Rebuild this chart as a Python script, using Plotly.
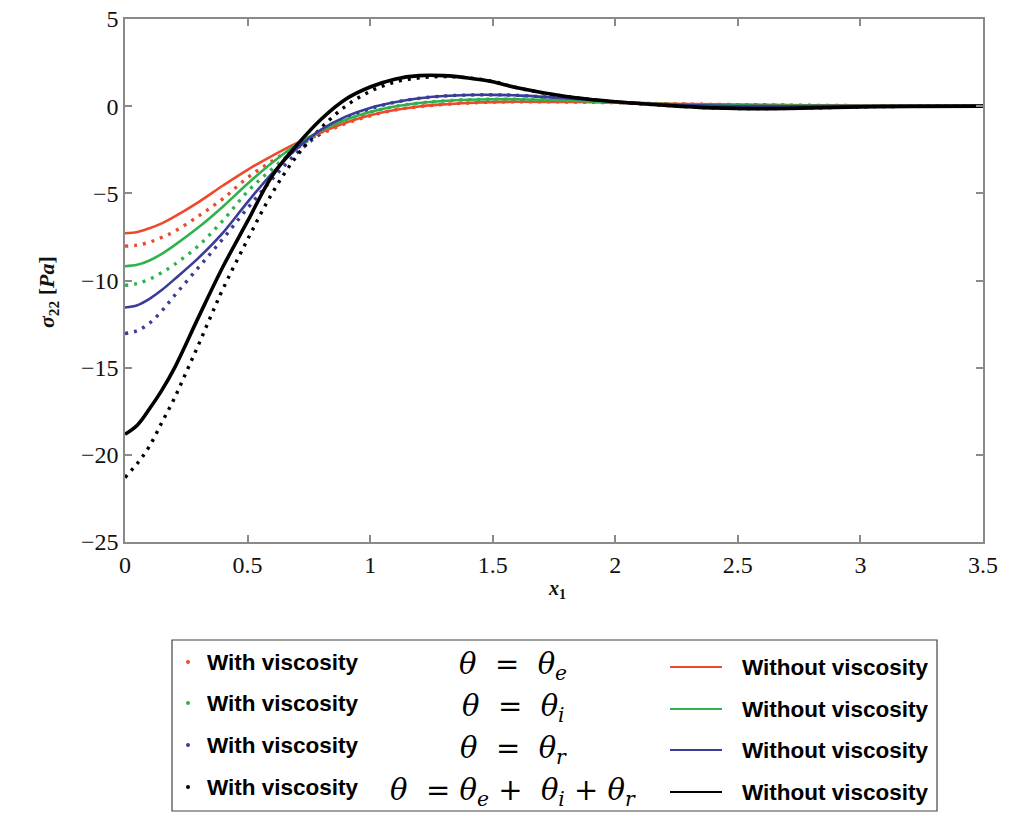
import plotly.graph_objects as go

# ---------------- data ----------------
x_solid = [0, 0.05, 0.1, 0.15, 0.2, 0.3, 0.4, 0.5, 0.6, 0.7, 0.8, 0.9, 1.0, 1.1, 1.2, 1.3, 1.4,
           1.5, 1.6, 1.8, 2.0, 2.2, 2.4, 2.6, 2.8, 3.0, 3.2, 3.5]
red_solid = [-7.29, -7.22, -7.0, -6.72, -6.35, -5.5, -4.55, -3.65, -2.85, -2.12, -1.5, -0.95, -0.52,
             -0.22, -0.02, 0.1, 0.18, 0.23, 0.25, 0.24, 0.2, 0.14, 0.1, 0.08, 0.05, 0.03, 0.02, 0.0]
green_solid = [-9.18, -9.1, -8.85, -8.47, -8.0, -6.95, -5.75, -4.45, -3.25, -2.2, -1.4, -0.78, -0.33,
               -0.02, 0.18, 0.3, 0.37, 0.4, 0.4, 0.33, 0.22, 0.12, 0.07, 0.04, 0.03, 0.02, 0.01, 0.0]
blue_solid = [-11.55, -11.42, -11.05, -10.55, -9.95, -8.7, -7.25, -5.5, -3.85, -2.45, -1.35, -0.6, -0.1,
              0.22, 0.45, 0.58, 0.64, 0.65, 0.62, 0.45, 0.25, 0.1, 0.03, 0.0, 0.0, 0.0, 0.0, 0.0]
black_solid = [-18.82, -18.3, -17.36, -16.3, -15.07, -12.1, -9.2, -6.6, -4.0, -2.25, -0.75, 0.4, 1.1,
               1.55, 1.75, 1.75, 1.62, 1.4, 1.05, 0.55, 0.25, 0.05, -0.1, -0.14, -0.1, -0.04, -0.01, 0.0]

x_dot = [0, 0.05, 0.1, 0.15, 0.2, 0.3, 0.4, 0.5, 0.6, 0.7, 0.8, 0.9, 1.0, 1.1, 1.2, 1.3, 1.4,
         1.5, 1.6, 1.8, 2.0, 2.2, 2.4, 2.6, 2.8, 3.0, 3.2, 3.5]
red_dot = [-8.03, -7.97, -7.8, -7.53, -7.2, -6.3, -5.3, -4.1, -3.15, -2.3, -1.6, -1.0, -0.55,
           -0.22, -0.02, 0.1, 0.18, 0.23, 0.25, 0.24, 0.2, 0.14, 0.1, 0.08, 0.05, 0.03, 0.02, 0.0]
green_dot = [-10.27, -10.18, -9.92, -9.55, -9.1, -8.0, -6.55, -4.9, -3.6, -2.45, -1.5, -0.82, -0.35,
             -0.02, 0.18, 0.3, 0.37, 0.4, 0.4, 0.33, 0.22, 0.12, 0.07, 0.04, 0.03, 0.02, 0.01, 0.0]
blue_dot = [-13.04, -12.88, -12.45, -11.75, -10.9, -9.25, -7.6, -5.85, -4.2, -2.7, -1.55, -0.7, -0.15,
            0.22, 0.45, 0.58, 0.64, 0.65, 0.62, 0.45, 0.25, 0.1, 0.03, 0.0, 0.0, 0.0, 0.0, 0.0]
x_black_dot = [0, 0.05, 0.1, 0.15, 0.2, 0.25, 0.3, 0.35, 0.4, 0.5, 0.6, 0.7, 0.8, 0.9, 1.0,
               1.1, 1.2, 1.3, 1.4, 1.5, 1.6, 1.8, 2.0, 2.2, 2.4, 2.6, 2.8, 3.0, 3.2, 3.5]
black_dot = [-21.3, -20.5, -19.5, -18.15, -16.8, -15.25, -13.68, -12.05, -10.47, -7.65, -5.0,
             -2.87, -1.25, 0.0, 0.85, 1.38, 1.62, 1.7, 1.62, 1.42, 1.05, 0.55, 0.25, 0.05,
             -0.1, -0.14, -0.1, -0.04, -0.01, 0.0]

colors = ["#ec4a2c", "#2fb24c", "#3b3b98", "#000000"]
math_labels = [
    "<i>θ</i>  =  <i>θ<sub>e</sub></i>",
    "<i>θ</i>  =  <i>θ<sub>i</sub></i>",
    "<i>θ</i>  =  <i>θ<sub>r</sub></i>",
    "<i>θ</i>  = <i>θ<sub>e</sub></i> +  <i>θ<sub>i</sub></i> + <i>θ<sub>r</sub></i>",
]
x_ticks = [0, 0.5, 1, 1.5, 2, 2.5, 3, 3.5]
x_tick_text = ["0", "0.5", "1", "1.5", "2", "2.5", "3", "3.5"]
y_ticks = [5, 0, -5, -10, -15, -20, -25]

# ---------------- figure ----------------
W, H = 1016, 816
# target plot-area box in screenshot pixels
L, R, T, B = 125, 983, 19, 542
# margins compensating for the 8px page offset observed in rendering
ML, MR, MT, MB = 117, 41, 11, 282

fig = go.Figure()

dots = [(x_dot, red_dot), (x_dot, green_dot), (x_dot, blue_dot), (x_black_dot, black_dot)]
solids = [red_solid, green_solid, blue_solid, black_solid]
for i in range(4):
    xd, yd = dots[i]
    fig.add_trace(go.Scatter(x=xd, y=yd, mode="lines", line_shape="spline",
                             line=dict(color=colors[i], width=3.4, dash="3px,6px"),
                             showlegend=False, hoverinfo="skip"))
for i in range(4):
    fig.add_trace(go.Scatter(x=x_solid, y=solids[i], mode="lines", line_shape="spline",
                             line=dict(color=colors[i], width=3.6 if i == 3 else 2.6),
                             showlegend=False, hoverinfo="skip"))

axis_common = dict(showgrid=False, zeroline=False, showline=True, linecolor="#8a8a8a",
                   linewidth=1.5, mirror="ticks", ticks="inside", ticklen=7,
                   tickcolor="#8a8a8a", tickwidth=1.5, ticklabeloverflow="allow",
                   automargin=False,
                   tickfont=dict(family="Liberation Serif", size=24, color="#111"))

fig.update_xaxes(range=[0, 3.5], tickvals=x_ticks, ticktext=x_tick_text, **axis_common)
fig.update_yaxes(range=[-25, 5], tickvals=y_ticks, **axis_common)


def px(xpix):
    return (xpix - L) / (R - L)


def py(ypix):
    return (B - ypix) / (B - T)


annotations = [
    dict(text="<b><i>σ</i><sub>22</sub> [<i>Pa</i>]</b>", x=px(32), y=py(292), xref="paper",
         yref="paper", textangle=-90, showarrow=False,
         font=dict(family="Liberation Serif", size=22, color="#111")),
    dict(text="<b><i>x</i><sub>1</sub></b>", x=px(557), y=py(604), xref="paper", yref="paper",
         showarrow=False, font=dict(family="Liberation Serif", size=20, color="#111")),
]
shapes = [
    dict(type="rect", xref="paper", yref="paper", x0=px(172), x1=px(937), y0=py(640), y1=py(811),
         line=dict(color="#444", width=1.2), fillcolor="white"),
]

row_y_left = [662, 703, 745, 787]
row_y_mid = [666, 708, 750, 792]
row_y_right = [667, 709, 750, 792]
for i in range(4):
    shapes.append(dict(type="circle", xref="paper", yref="paper",
                       x0=px(186), x1=px(190), y0=py(row_y_left[i] - 2), y1=py(row_y_left[i] + 2),
                       fillcolor=colors[i], line=dict(width=0)))
    annotations.append(dict(text="<b>With viscosity</b>", x=px(205), y=py(row_y_left[i]),
                            xref="paper", yref="paper", xanchor="left", yanchor="middle",
                            showarrow=False,
                            font=dict(family="Liberation Sans", size=22.5, color="#000")))
    annotations.append(dict(text=math_labels[i], x=px(513), y=py(row_y_mid[i]),
                            xref="paper", yref="paper", xanchor="center", yanchor="middle",
                            showarrow=False,
                            font=dict(family="DejaVu Serif", size=29, color="#000")))
    shapes.append(dict(type="line", xref="paper", yref="paper",
                       x0=px(670), x1=px(722), y0=py(row_y_right[i]), y1=py(row_y_right[i]),
                       line=dict(color=colors[i], width=2)))
    annotations.append(dict(text="<b>Without viscosity</b>", x=px(740), y=py(row_y_right[i]),
                            xref="paper", yref="paper", xanchor="left", yanchor="middle",
                            showarrow=False,
                            font=dict(family="Liberation Sans", size=22.5, color="#000")))

fig.update_layout(width=W, height=H, margin=dict(l=ML, r=MR, t=MT, b=MB),
                  plot_bgcolor="white", paper_bgcolor="white",
                  annotations=annotations, shapes=shapes)

fig.write_html("out.html")
